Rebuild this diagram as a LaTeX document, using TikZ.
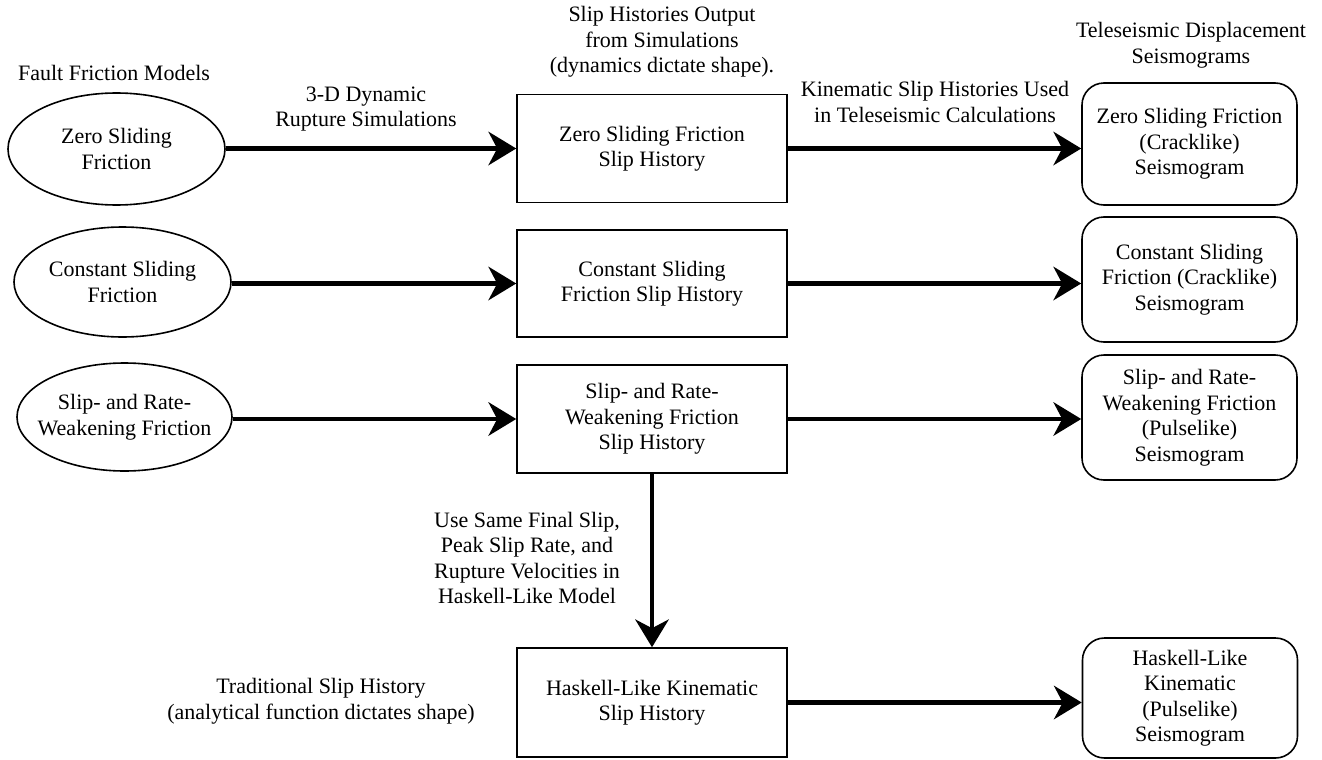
\documentclass[tikz,border=0pt]{standalone}
\usepackage{fontspec}
\setmainfont{Liberation Serif}
\usetikzlibrary{shapes.geometric,arrows.meta}
\begin{document}
\begin{tikzpicture}[x=1pt,y=-1pt,
 every node/.style={font=\rmfamily\fontsize{22}{25.5}\selectfont, align=center, inner sep=0pt},
 ell/.style={ellipse, draw, line width=1.6pt, inner xsep=-30pt, inner ysep=-12pt, minimum width=217pt, minimum height=110pt},
 sbox/.style={rectangle, draw, line width=1.6pt, minimum width=270pt, minimum height=108pt},
 rbox/.style={rectangle, draw, rounded corners=22pt, line width=1.6pt, minimum width=215pt, minimum height=124pt},
 conn/.style={line width=4.5pt, -{Stealth[length=28pt,width=34pt,inset=9pt,line width=0pt]}}
]
\fill[white] (0,0) rectangle (1322,760);
\useasboundingbox (0,0) rectangle (1322,760);

% ellipses
\node[ell, minimum height=112pt] (e1) at (116.5,149) {Zero Sliding\\Friction};
\node[ell] (e2) at (122.5,282) {Constant Sliding\\Friction};
\node[ell, minimum width=215pt, minimum height=108pt] (e3) at (124.5,417) {Slip- and Rate-\\Weakening Friction};

% slip history boxes
\node[sbox] (b1) at (652,148.5) {Zero Sliding Friction\\Slip History};
\node[sbox, minimum height=107pt] (b2) at (652,283.5) {Constant Sliding\\Friction Slip History};
\node[sbox] (b3) at (652,419) {Slip- and Rate-\\Weakening Friction\\Slip History};
\node[sbox, minimum height=109pt] (b4) at (652,702.5) {Haskell-Like Kinematic\\Slip History};

% seismogram boxes
\node[rbox, minimum height=122pt] (r1) at (1189.5,144) {Zero Sliding Friction\\(Cracklike)\\Seismogram};
\node[rbox, minimum height=125pt] (r2) at (1189.5,279.5) {Constant Sliding\\Friction (Cracklike)\\Seismogram};
\node[rbox, minimum height=125pt] (r3) at (1189.5,417.5) {Slip- and Rate-\\Weakening Friction\\(Pulselike)\\Seismogram};
\node[rbox, minimum height=120pt] (r4) at (1190,698) {Haskell-Like\\Kinematic\\(Pulselike)\\Seismogram};

% labels
\node (lfault) at (114,73) {Fault Friction Models};
\node (lsim) at (366,109) {3-D Dynamic\\Rupture Simulations};
\node (lout) at (662,42) {Slip Histories Output\\from Simulations\\(dynamics dictate shape).};
\node (lkin) at (935,102) {Kinematic Slip Histories Used\\in Teleseismic Calculations};
\node (ltele) at (1191,45) {Teleseismic Displacement\\Seismograms};
\node (luse) at (527,558) {Use Same Final Slip,\\Peak Slip Rate, and\\Rupture Velocities in\\Haskell-Like Model};
\node (ltrad) at (321,701) {Traditional Slip History\\(analytical function dictates shape)};

% connectors
\draw[conn] (e1.east |- b1.west) -- (b1.west);
\draw[conn] (e2.east |- b2.west) -- (b2.west);
\draw[conn] (e3.east |- b3.west) -- (b3.west);
\draw[conn] (b1.east) -- (b1.east -| r1.west);
\draw[conn] (b2.east) -- (b2.east -| r2.west);
\draw[conn] (b3.east) -- (b3.east -| r3.west);
\draw[conn] (b4.east) -- (b4.east -| r4.west);
\draw[conn] (b3.south) -- (b4.north);
\end{tikzpicture}
\end{document}
